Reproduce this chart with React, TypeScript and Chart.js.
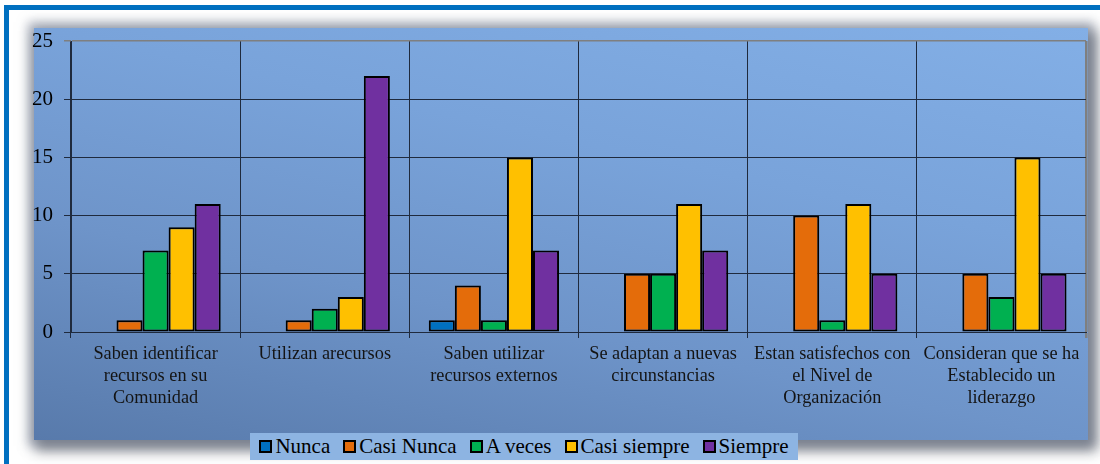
import React, { useEffect, useRef } from "react";
import { Chart, registerables } from "chart.js";

Chart.register(...registerables);

const categories: string[][] = [
  ["Saben identificar", "recursos en su", "Comunidad"],
  ["Utilizan arecursos"],
  ["Saben utilizar", "recursos externos"],
  ["Se adaptan a nuevas", "circunstancias"],
  ["Estan satisfechos con", "el Nivel de", "Organización"],
  ["Consideran que se ha", "Establecido un", "liderazgo"],
];

const seriesNames = ["Nunca", "Casi Nunca", "A veces", "Casi siempre", "Siempre"];
const nunca = [0, 0, 1, 0, 0, 0];
const casiNunca = [1, 1, 4, 5, 10, 5];
const aVeces = [7, 2, 1, 5, 1, 3];
const casiSiempre = [9, 3, 15, 11, 11, 15];
const siempre = [11, 22, 7, 7, 5, 5];
const seriesColors = ["#0070C0", "#E46C0A", "#00B050", "#FFC000", "#7030A0"];
const yTicks = [0, 5, 10, 15, 20, 25];

const FONT = "'Liberation Serif', Tinos, 'Times New Roman', serif";

export default function App() {
  const ref = useRef<HTMLCanvasElement | null>(null);

  useEffect(() => {
    if (!ref.current) return;
    let chart: Chart | null = null;
    let cancelled = false;
    const build = () => {
      if (cancelled || !ref.current) return;
      const values = [nunca, casiNunca, aVeces, casiSiempre, siempre];
      chart = new Chart(ref.current, {
        type: "bar",
        data: {
          labels: categories,
          datasets: values.map((v, i) => ({
            label: seriesNames[i],
            data: v,
            backgroundColor: seriesColors[i],
            borderColor: "#000000",
            borderWidth: (c: any) => (c.raw === 0 ? 0 : 2),
            borderSkipped: false,
            categoryPercentage: 0.77,
            barPercentage: 1,
          })),
        },
        options: {
          responsive: false,
          animation: false,
          layout: { padding: { left: 0, top: 41, right: 14, bottom: 0 } },
          plugins: {
            legend: { display: false },
            tooltip: { enabled: false },
          },
          scales: {
            x: {
              afterFit: (s: any) => {
                s.height = 132;
              },
              grid: {
                offset: true,
                color: (c: any) => (c.type === "scale" ? "#7f7f7f" : "#1f2a3d"),
                lineWidth: (c: any) => (c.type === "scale" ? 2.5 : 1),
                tickLength: 6,
              },
              border: { display: true, color: "#1f2a3d", width: 1 },
              ticks: {
                color: "#141414",
                font: { family: FONT, size: 18.3, lineHeight: 1.2 },
                padding: 5,
                maxRotation: 0,
                autoSkip: false,
              },
            },
            y: {
              min: 0,
              max: 25,
              afterFit: (s: any) => {
                s.width = 71;
              },
              afterBuildTicks: (s: any) => {
                s.ticks = yTicks.map((v) => ({ value: v }));
              },
              grid: {
                color: (c: any) => (c.tick && c.tick.value === 25 ? "#7f7f7f" : "#1f2a3d"),
                lineWidth: (c: any) => (c.tick && c.tick.value === 25 ? 1.5 : 1),
                tickLength: 7,
              },
              border: { display: true, color: "#1f2a3d", width: 1 },
              ticks: {
                color: "#000000",
                font: { family: FONT, size: 21 },
                padding: 11,
              },
            },
          },
        },
      });
    };
    const fonts: any = (document as any).fonts;
    if (fonts && fonts.load) {
      Promise.all([
        fonts.load("18px 'Liberation Serif'"),
        fonts.load("21px 'Liberation Serif'"),
      ])
        .catch(() => null)
        .then(build);
    } else {
      build();
    }
    return () => {
      cancelled = true;
      if (chart) chart.destroy();
    };
  }, []);

  const legendItem = (name: string, color: string, key: number) => (
    <div key={key} style={{ display: "flex", alignItems: "center", marginRight: key < 4 ? 13 : 0 }}>
      <span
        style={{
          display: "inline-block",
          width: 9,
          height: 9,
          background: color,
          border: "2px solid #000",
          marginRight: 3,
        }}
      />
      <span>{name}</span>
    </div>
  );

  return (
    <div style={{ position: "fixed", left: 0, top: 0, width: 1100, height: 464, overflow: "hidden", background: "#fff" }}>
      <div
        style={{
          position: "absolute",
          left: 4,
          top: 5,
          width: 1200,
          height: 600,
          borderLeft: "5px solid #0070C0",
          borderTop: "5px solid #0070C0",
          boxSizing: "border-box",
        }}
      />
      <div
        style={{
          position: "absolute",
          left: 34,
          top: 28,
          width: 1054,
          height: 412,
          background: "linear-gradient(12deg, #587aab 0%, #6e94c9 35%, #79a3da 65%, #83afe6 100%)",
          boxShadow: "0 0 10px 6px rgba(110,120,140,0.55), 5px 7px 12px 4px rgba(40,45,60,0.55)",
        }}
      />
      <canvas ref={ref} width={1100} height={464} style={{ position: "absolute", left: 0, top: 0, width: 1100, height: 464 }} />
      <div
        style={{
          position: "absolute",
          left: 250,
          top: 433,
          width: 548,
          height: 27,
          background: "#8DB4E2",
          display: "flex",
          alignItems: "center",
          justifyContent: "center",
          fontFamily: FONT,
          fontSize: 21,
          color: "#000",
          lineHeight: "27px",
          whiteSpace: "nowrap",
        }}
      >
        {seriesNames.map((n, i) => legendItem(n, seriesColors[i], i))}
      </div>
    </div>
  );
}
